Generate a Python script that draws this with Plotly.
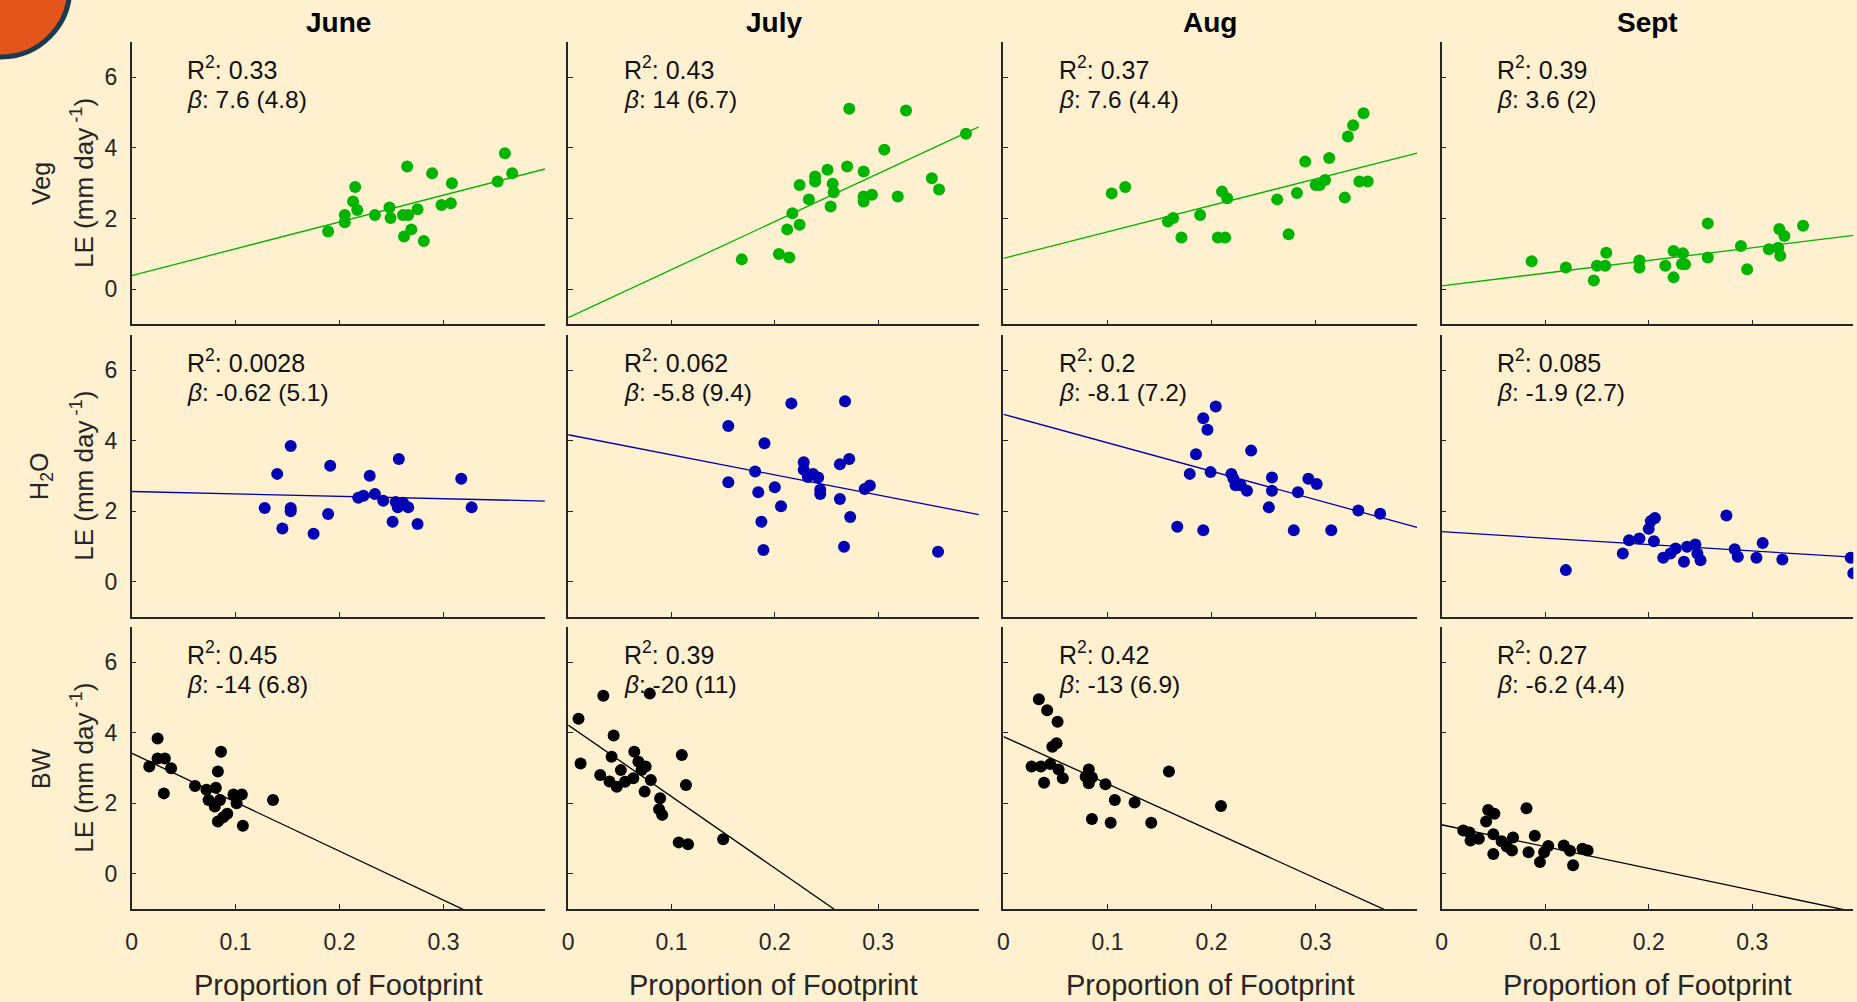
import plotly.graph_objects as go

# ---------------- data ----------------
months = ["June", "July", "Aug", "Sept"]
row_names = ["Veg", "H<sub>2</sub>O", "BW"]
x_ticks = [0, 0.1, 0.2, 0.3]
x_tick_text = ["0", "0.1", "0.2", "0.3"]
y_ticks = [0, 2, 4, 6]
y_tick_text = ["0", "2", "4", "6"]

june_veg_x = [0.189, 0.205, 0.205, 0.213, 0.215, 0.217, 0.234, 0.248, 0.249, 0.261, 0.266, 0.265, 0.269, 0.262, 0.275, 0.281, 0.289, 0.298, 0.307, 0.308, 0.352, 0.359, 0.366]
june_veg_y = [1.63, 2.10, 1.89, 2.48, 2.89, 2.24, 2.10, 2.31, 2.01, 2.10, 2.10, 3.47, 1.69, 1.49, 2.26, 1.36, 3.28, 2.38, 2.43, 3.00, 3.05, 3.85, 3.28]
july_veg_x = [0.168, 0.204, 0.214, 0.212, 0.224, 0.217, 0.224, 0.233, 0.239, 0.239, 0.251, 0.256, 0.257, 0.254, 0.270, 0.272, 0.286, 0.286, 0.286, 0.294, 0.306, 0.319, 0.327, 0.352, 0.359, 0.385]
july_veg_y = [0.84, 0.99, 0.89, 1.69, 1.82, 2.15, 2.95, 2.54, 3.19, 3.05, 3.38, 2.98, 2.74, 2.34, 3.47, 5.11, 3.33, 2.62, 2.48, 2.67, 3.95, 2.62, 5.06, 3.14, 2.82, 4.40]
aug_veg_x = [0.104, 0.117, 0.158, 0.163, 0.171, 0.189, 0.206, 0.213, 0.210, 0.215, 0.263, 0.274, 0.282, 0.290, 0.300, 0.304, 0.309, 0.313, 0.328, 0.331, 0.336, 0.342, 0.350, 0.346]
aug_veg_y = [2.71, 2.89, 1.91, 2.01, 1.46, 2.10, 1.46, 1.46, 2.76, 2.57, 2.54, 1.55, 2.72, 3.61, 2.95, 2.95, 3.09, 3.71, 2.59, 4.32, 4.64, 3.05, 3.05, 4.98]
sept_veg_x = [0.087, 0.120, 0.147, 0.150, 0.158, 0.159, 0.191, 0.191, 0.216, 0.224, 0.224, 0.233, 0.232, 0.235, 0.257, 0.257, 0.289, 0.295, 0.316, 0.325, 0.327, 0.326, 0.331, 0.349]
sept_veg_y = [0.79, 0.61, 0.24, 0.66, 0.66, 1.03, 0.81, 0.61, 0.66, 1.08, 0.33, 1.01, 0.71, 0.70, 1.86, 0.89, 1.22, 0.56, 1.13, 1.17, 0.94, 1.70, 1.50, 1.79]

june_h2o_x = [0.128, 0.140, 0.145, 0.153, 0.153, 0.153, 0.175, 0.189, 0.191, 0.218, 0.223, 0.229, 0.234, 0.242, 0.251, 0.254, 0.256, 0.261, 0.266, 0.257, 0.275, 0.317, 0.327]
june_h2o_y = [2.09, 3.06, 1.51, 3.85, 2.09, 2.00, 1.36, 1.92, 3.29, 2.38, 2.44, 3.01, 2.49, 2.30, 1.70, 2.26, 2.11, 2.24, 2.11, 3.48, 1.64, 2.92, 2.11]
july_h2o_x = [0.155, 0.155, 0.181, 0.184, 0.187, 0.189, 0.190, 0.200, 0.206, 0.216, 0.228, 0.228, 0.232, 0.237, 0.242, 0.244, 0.244, 0.263, 0.263, 0.267, 0.268, 0.272, 0.273, 0.287, 0.292, 0.358]
july_h2o_y = [4.42, 2.82, 3.13, 2.54, 1.70, 0.90, 3.93, 2.68, 2.14, 5.06, 3.39, 3.18, 2.97, 3.06, 2.96, 2.61, 2.49, 3.33, 2.35, 0.99, 5.12, 3.48, 1.84, 2.63, 2.73, 0.85]
aug_h2o_x = [0.167, 0.179, 0.185, 0.192, 0.192, 0.196, 0.199, 0.204, 0.219, 0.221, 0.223, 0.228, 0.234, 0.238, 0.255, 0.258, 0.258, 0.279, 0.283, 0.293, 0.301, 0.315, 0.341, 0.362]
aug_h2o_y = [1.56, 3.06, 3.62, 4.64, 1.46, 4.31, 3.11, 4.97, 3.06, 2.92, 2.74, 2.74, 2.58, 3.72, 2.11, 2.96, 2.58, 1.46, 2.54, 2.92, 2.77, 1.46, 2.02, 1.93]
sept_h2o_x = [0.120, 0.175, 0.181, 0.191, 0.200, 0.202, 0.206, 0.205, 0.214, 0.221, 0.226, 0.234, 0.237, 0.245, 0.247, 0.250, 0.275, 0.283, 0.286, 0.310, 0.304, 0.329, 0.395, 0.3975]
sept_h2o_y = [0.33, 0.80, 1.18, 1.23, 1.50, 1.72, 1.81, 1.15, 0.68, 0.80, 0.94, 0.57, 0.99, 1.06, 0.80, 0.61, 1.88, 0.92, 0.71, 1.10, 0.68, 0.63, 0.68, 0.24]

june_bw_x = [0.017, 0.025, 0.025, 0.032, 0.031, 0.038, 0.061, 0.072, 0.074, 0.081, 0.083, 0.080, 0.085, 0.086, 0.083, 0.088, 0.092, 0.098, 0.101, 0.106, 0.107, 0.136]
june_bw_y = [3.04, 3.84, 3.27, 3.27, 2.28, 2.99, 2.49, 2.38, 2.09, 2.44, 2.90, 1.91, 2.09, 3.46, 1.48, 1.60, 1.70, 2.25, 2.00, 2.25, 1.36, 2.09]
july_bw_x = [0.010, 0.012, 0.031, 0.034, 0.040, 0.042, 0.044, 0.047, 0.051, 0.055, 0.063, 0.064, 0.068, 0.071, 0.075, 0.074, 0.079, 0.080, 0.089, 0.088, 0.091, 0.107, 0.116, 0.110, 0.114, 0.150]
july_bw_y = [4.40, 3.13, 2.80, 5.05, 2.62, 3.32, 3.92, 2.47, 2.94, 2.61, 2.71, 3.46, 3.18, 2.94, 3.04, 2.33, 5.11, 2.66, 2.14, 1.83, 1.67, 0.89, 0.84, 3.37, 2.52, 0.98]
aug_bw_x = [0.027, 0.034, 0.036, 0.039, 0.042, 0.045, 0.047, 0.051, 0.052, 0.053, 0.057, 0.082, 0.079, 0.085, 0.082, 0.085, 0.098, 0.103, 0.107, 0.126, 0.142, 0.159, 0.209]
aug_bw_y = [3.04, 4.95, 3.04, 2.58, 4.64, 3.11, 3.60, 3.70, 4.31, 2.96, 2.71, 2.96, 2.75, 2.73, 2.57, 1.55, 2.54, 1.45, 2.09, 2.02, 1.45, 2.90, 1.92]
sept_bw_x = [0.021, 0.027, 0.028, 0.036, 0.043, 0.045, 0.051, 0.050, 0.050, 0.058, 0.063, 0.068, 0.069, 0.082, 0.084, 0.090, 0.095, 0.099, 0.103, 0.118, 0.124, 0.127, 0.136, 0.141]
sept_bw_y = [1.23, 1.17, 0.94, 0.99, 1.48, 1.81, 1.70, 1.12, 0.56, 0.92, 0.77, 0.66, 1.03, 1.86, 0.61, 1.08, 0.33, 0.61, 0.79, 0.80, 0.65, 0.24, 0.71, 0.66]

panel_x = [[june_veg_x, july_veg_x, aug_veg_x, sept_veg_x],
           [june_h2o_x, july_h2o_x, aug_h2o_x, sept_h2o_x],
           [june_bw_x, july_bw_x, aug_bw_x, sept_bw_x]]
panel_y = [[june_veg_y, july_veg_y, aug_veg_y, sept_veg_y],
           [june_h2o_y, july_h2o_y, aug_h2o_y, sept_h2o_y],
           [june_bw_y, july_bw_y, aug_bw_y, sept_bw_y]]

r2_labels = [["0.33", "0.43", "0.37", "0.39"],
             ["0.0028", "0.062", "0.2", "0.085"],
             ["0.45", "0.39", "0.42", "0.27"]]
beta_labels = [["7.6 (4.8)", "14 (6.7)", "7.6 (4.4)", "3.6 (2)"],
               ["-0.62 (5.1)", "-5.8 (9.4)", "-8.1 (7.2)", "-1.9 (2.7)"],
               ["-14 (6.8)", "-20 (11)", "-13 (6.9)", "-6.2 (4.4)"]]
fit_intercept = [[0.38, -0.81, 0.87, 0.09],
                 [2.56, 4.17, 4.75, 1.42],
                 [3.42, 4.22, 3.89, 1.39]]
fit_slope = [[7.6, 13.6, 7.5, 3.6],
             [-0.68, -5.7, -8.07, -1.82],
             [-13.9, -20.3, -13.4, -6.2]]

x_range = [0, 0.3975]
y_range = [-1, 7]

# ---------------- style ----------------
W, H = 1857, 1002
BG = "#fff0cf"
row_colors = ["#00b400", "#0000b4", "#000000"]
AX = "#262626"
FONT = "Liberation Sans, Arial, Helvetica, sans-serif"

col_px = [(126, 540.7), (564, 976), (1000.7, 1415.7), (1440.2, 1853.3)]
row_px = [(42, 324.3), (335, 617), (627, 909)]

fig = go.Figure()
layout = dict(width=W, height=H, paper_bgcolor=BG, plot_bgcolor=BG,
              margin=dict(l=0, r=0, t=0, b=0), showlegend=False,
              font=dict(family=FONT, color="#111111"))
annotations = []

for r in range(3):
    for c in range(4):
        k = r * 4 + c + 1
        xs = "" if k == 1 else str(k)
        xd = [col_px[c][0] / W, col_px[c][1] / W]
        yd = [1 - row_px[r][1] / H, 1 - row_px[r][0] / H]
        layout["xaxis" + xs] = dict(
            domain=xd, anchor="y" + xs, range=x_range, showgrid=False, zeroline=False,
            showline=True, linecolor=AX, linewidth=1.6, ticks="inside", ticklen=5,
            tickwidth=1.4, tickcolor=AX, tickvals=x_ticks, ticktext=x_tick_text,
            showticklabels=(r == 2), tickfont=dict(size=23, color="#262626"),
            ticklabelstandoff=12)
        layout["yaxis" + xs] = dict(
            domain=yd, anchor="x" + xs, range=y_range, showgrid=False, zeroline=False,
            showline=True, linecolor=AX, linewidth=1.6, ticks="inside", ticklen=5,
            tickwidth=1.4, tickcolor=AX, tickvals=y_ticks, ticktext=y_tick_text,
            showticklabels=(c == 0), tickfont=dict(size=23, color="#262626"),
            ticklabelstandoff=8)
        col = row_colors[r]
        fig.add_trace(go.Scatter(
            x=panel_x[r][c], y=panel_y[r][c], mode="markers",
            marker=dict(size=12, color=col, line=dict(width=0)),
            xaxis="x" + xs, yaxis="y" + xs))
        lx = [x_range[0], x_range[1]]
        ly = [fit_intercept[r][c] + fit_slope[r][c] * v for v in lx]
        fig.add_trace(go.Scatter(
            x=lx, y=ly, mode="lines", line=dict(color=col, width=1.3),
            xaxis="x" + xs, yaxis="y" + xs))
        annotations.append(dict(
            xref="x" + xs + " domain", yref="y" + xs + " domain", x=0.13, y=0.908,
            xanchor="left", yanchor="middle", showarrow=False,
            text="R<sup>2</sup>: " + r2_labels[r][c], font=dict(size=25, color="#111111")))
        annotations.append(dict(
            xref="x" + xs + " domain", yref="y" + xs + " domain", x=0.13, y=0.795,
            xanchor="left", yanchor="middle", showarrow=False,
            text="<i>β</i>: " + beta_labels[r][c], font=dict(size=24.5, color="#111111")))

for c in range(4):
    cx = (col_px[c][0] + col_px[c][1]) / 2 / W
    annotations.append(dict(xref="paper", yref="paper", x=cx, y=1 - 22 / H,
                            xanchor="center", yanchor="middle", showarrow=False,
                            text="<b>" + months[c] + "</b>", font=dict(size=28, color="#000000")))
    annotations.append(dict(xref="paper", yref="paper", x=cx, y=1 - 985 / H,
                            xanchor="center", yanchor="middle", showarrow=False,
                            text="Proportion of Footprint", font=dict(size=29, color="#262626")))

for r in range(3):
    cy = 1 - (row_px[r][0] + row_px[r][1]) / 2 / H
    annotations.append(dict(xref="paper", yref="paper", x=35 / W, y=cy,
                            xanchor="center", yanchor="middle", showarrow=False, textangle=-90,
                            text=row_names[r], font=dict(size=25, color="#262626")))
    annotations.append(dict(xref="paper", yref="paper", x=76 / W, y=cy,
                            xanchor="center", yanchor="middle", showarrow=False, textangle=-90,
                            text="LE (mm day<sup> -1</sup>)", font=dict(size=26, color="#262626")))

layout["annotations"] = annotations
layout["shapes"] = [dict(type="circle", xref="paper", yref="paper",
                         x0=-74 / W, x1=64 / W, y0=1 + (12 - 69) / H, y1=1 + (12 + 69) / H,
                         fillcolor="#e2561b", line=dict(color="#1d3a4f", width=5), layer="above")]
fig.update_layout(**layout)
fig.write_html("out.html", config={"displayModeBar": False},
               post_script="document.body.style.margin='0px';document.body.style.overflow='hidden';")
